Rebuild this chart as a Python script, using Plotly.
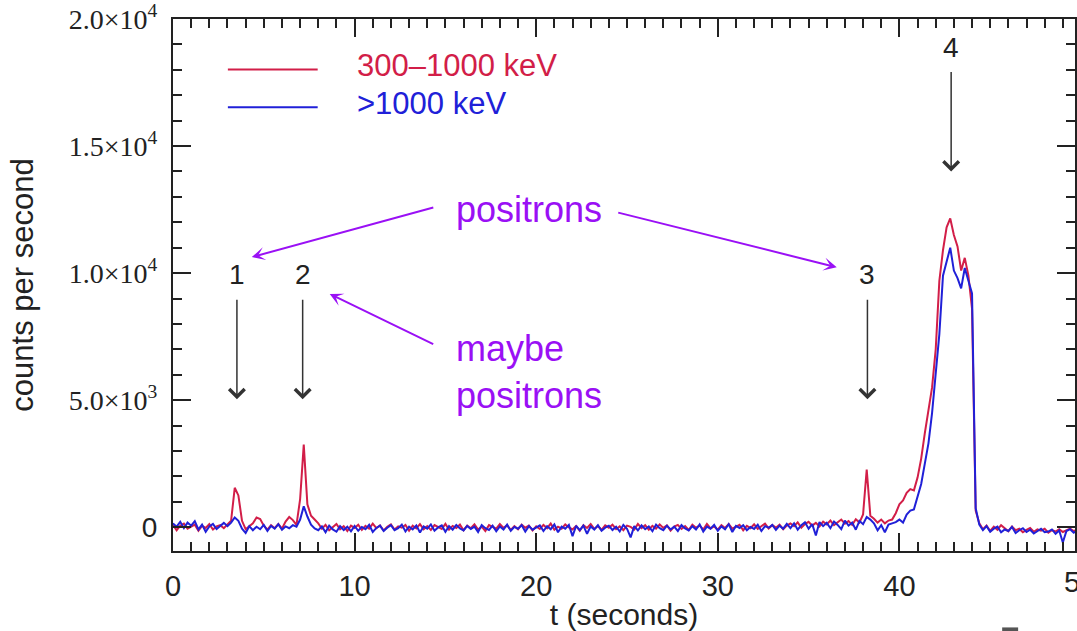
import plotly.graph_objects as go

# time grid (seconds), 0.2 s bins
t = [round(0.2 * i, 1) for i in range(250)]

# 300-1000 keV counts per second
red = [
    80, -120, 60, 140, -60, 20, 100, -140, 50, -30, 120, -90, 30, 80, -40, 110, 260,
    1550, 1250,
    250, -80, 40, 150, 380, 320, 60, -100, 80, -40, 120, -60, 220, 400, 280, 90,
    1100, 3250, 900, 450, 300,
    150, -60, 90, -120, 20, 130, -80, 40, -150, 60,
    -30, 100, -110, 50, -60, 140, -40, 70, -130, 20,
    110, -90, 30, -20, 90, -140, 60, -50, 120, -80,
    40, -110, 80, 10, -70, 130, -100, 50, -30, 100,
    -120, 60, -40, 110, -90, 20, -150, 80, 0, -60,
    120, -30, 70, -110, 40, -80, 100, -20, 60, -130,
    30, -70, 90, -40, 140, -100, 20, -60, 110, -10,
    -90, 50, -140, 80, -30, 120, -70, 40, -110, 70,
    -20, 100, -80, 30, -120, 60, 10, -90, 130, -40,
    80, -100, 50, -60, 110, -30, 70, -140, 20, 90,
    -70, 40, -110, 100, -20, 60, -90, 130, -50, 30,
    -100, 80, -30, 120, -60, 10, 90, -120, 50, -40,
    110, -70, 30, 140, -50, 80, -20, 100, -80, 60,
    150, 40, 190, -20, 120, 210, 60, 170, 30, 220,
    110, 260, 80, 190, 300, 140, 240, 90, 310, 180,
    500, 2270, 450,
    330, 180, 300, 150, 260,
    300, 550, 900, 1050, 1350, 1500, 1450, 1950, 2700, 3700, 4700, 5500, 7000,
    9700, 10900, 11800, 12150, 11500, 11050, 10100, 10600, 9900, 8600, 650, 150,
    -80, 60, -150, 20, -100, 80, -40, -160, 30, -120, -60, -200, -110, -30,
    -180, -90, -140, -60, -220, -120, -170, -80, -190, -130, -60, -150, -100,
]

# >1000 keV counts per second
blue = [
    150, 20, 210, -40, 180, 60, 240, -90, 100, -180, 30, 130, -70, 60, 170, 40, 180,
    380, 250,
    -60, -230, 40, -120, 20, -80, 90, -150, 50, -60, 120, -100, 30, -40, 80, 20,
    300, 820, 420, 100, -50,
    -120, 30, -200, 60, -90, -180, 40, -110, 20, -160,
    50, -140, 10, -80, 90, -190, -30, 60, -150, -20,
    80, -120, -40, 100, -170, 20, -90, 70, -210, 30,
    -60, 110, -140, -10, 70, -180, 40, -100, 90, -50,
    -130, 50, -70, 20, -190, 80, -40, -110, 60, -160,
    30, -90, 100, -140, 10, -60, 80, -170, 40, -100,
    -30, 70, -150, 40, -80, 110, -200, 20, -60, 90,
    -350, 50, -120, 60, -260, 30, -90, 80, -140, -20,
    60, -110, 20, -170, 90, -60, -400, 40, -130, 70,
    -80, 30, -160, 100, -40, -120, 60, -90, 20, -150,
    80, -50, -130, 40, -90, 110, -170, 20, -60, 90,
    -140, 30, -80, 120, -190, 50, -30, 80, -120, 10,
    -70, 100, -150, 40, -20, 90, -110, 60, -60, 130,
    -40, 150, -100, 80, 190, -60, 120, -330, 200, 40,
    170, -40, 220, 90, -80, 260, 60, 180, -100, 250,
    120, 400, 300,
    150, -120, 80, -200, 100,
    150, 200, 300, 180, 500, 650, 700, 1200, 1700, 2500, 3300, 4500, 6000,
    7600, 9900, 10500, 11000, 10100, 9800, 9400, 10200, 9700, 9200, 750, 100,
    -120, 40, -180, -60, 20, -200, -90, -150, 10, -230, -120, -40, -190, -100,
    -250, -140, -60, -200, -170, -90, -260, -130, -600, -150, -80, -220, -120,
]

series_names = ["300\u20131000 keV", ">1000 keV"]
series_colors = ["#d21e48", "#2020d8"]

y_tickvals = [0, 5000, 10000, 15000, 20000]
y_ticktext = ['<span style="font-family:Liberation Sans">0</span>',
              "5.0\u00d710<sup>3</sup>", "1.0\u00d710<sup>4</sup>",
              "1.5\u00d710<sup>4</sup>", "2.0\u00d710<sup>4</sup>"]
x_tickvals = [0, 10, 20, 30, 40]

# event markers: label, time, tip height (counts/s)
events = [("1", 3.52, 5040), ("2", 7.14, 5040), ("3", 38.24, 5040), ("4", 42.85, 14000)]

SANS = "Liberation Sans, Arial, Helvetica, sans-serif"
SERIF = "Liberation Serif, Times New Roman, serif"
PURPLE = "#9a10f5"

fig = go.Figure()
for vals, name, col in zip([red, blue], series_names, series_colors):
    fig.add_trace(go.Scatter(x=t, y=vals, mode="lines", name=name,
                             line=dict(color=col, width=2), showlegend=False))

W, H = 1077, 631
L, R, T, B = 173, 0, 15, 80
PW, PH = W - L - R, H - T - B

fig.update_layout(
    width=W, height=H,
    margin=dict(l=L, r=R, t=T, b=B),
    paper_bgcolor="white", plot_bgcolor="white",
    font=dict(family=SANS, size=28, color="#222"),
)

fig.update_xaxes(
    range=[0, 49.67], tickvals=x_tickvals,
    ticks="inside", ticklen=18, tickwidth=1.5, tickcolor="#222",
    minor=dict(dtick=1, ticks="inside", ticklen=9, tickwidth=1.5, tickcolor="#222"),
    showline=True, linecolor="#222", linewidth=2, mirror="allticks",
    showgrid=False, zeroline=False,
    tickfont=dict(family=SANS, size=29, color="#222"),
    ticklabelstandoff=8,
    title=dict(text="t (seconds)", font=dict(family=SANS, size=30, color="#222"), standoff=2),
)
fig.update_yaxes(
    range=[-937.5, 20001], tickvals=y_tickvals, ticktext=y_ticktext,
    ticks="inside", ticklen=18, tickwidth=1.5, tickcolor="#222",
    minor=dict(dtick=1000, ticks="inside", ticklen=9, tickwidth=1.5, tickcolor="#222"),
    showline=True, linecolor="#222", linewidth=2, mirror="allticks",
    showgrid=False, zeroline=False,
    tickfont=dict(family=SERIF, size=28, color="#222"),
    ticklabelstandoff=8, ticklabeloverflow="allow",
    title=dict(text="counts per second", font=dict(family=SANS, size=31, color="#222"), standoff=26),
)

annotations = []
# "50" tick label that falls just past the visible edge
annotations.append(dict(x=(1082 - L) / PW, y=(551 - 582) / PH, xref="paper", yref="paper",
                        text="50", showarrow=False, xanchor="center", yanchor="middle",
                        font=dict(family=SANS, size=29, color="#222")))

for lab, tx, ty in events:
    annotations.append(dict(x=tx, y=ty, xref="x", yref="y", text="", showarrow=True,
                            ax=0, ay=-101, arrowhead=4, arrowsize=2, arrowwidth=1.5,
                            arrowcolor="#333", standoff=0, startstandoff=0))
    annotations.append(dict(x=tx, y=ty + 101 / 0.0256 + 950, xref="x", yref="y", text=lab,
                            showarrow=False, xanchor="center", yanchor="middle",
                            font=dict(family=SANS, size=28, color="#222")))

annotations.append(dict(x=19.6, y=12500, xref="x", yref="y", text="positrons", showarrow=False,
                        xanchor="center", yanchor="middle",
                        font=dict(family=SANS, size=36, color=PURPLE)))
annotations.append(dict(x=15.45, y=6090, xref="x", yref="y", text="maybe<br>positrons",
                        showarrow=False, xanchor="left", yanchor="middle", align="left",
                        font=dict(family=SANS, size=36, color=PURPLE)))
for tx, ty, ax, ay in [(4.34, 10630, 183, -50), (36.55, 10230, -220, -55), (8.63, 9180, 105, 51)]:
    annotations.append(dict(x=tx, y=ty, xref="x", yref="y", text="", showarrow=True,
                            ax=ax, ay=ay, arrowhead=3, arrowsize=1.1, arrowwidth=2,
                            arrowcolor=PURPLE, standoff=0))

# legend text
annotations.append(dict(x=(355 - L) / PW, y=(551 - 62) / PH, xref="paper", yref="paper",
                        text=series_names[0], showarrow=False, xanchor="left", yanchor="middle",
                        font=dict(family=SANS, size=31, color=series_colors[0])))
annotations.append(dict(x=(355 - L) / PW, y=(551 - 100) / PH, xref="paper", yref="paper",
                        text=series_names[1], showarrow=False, xanchor="left", yanchor="middle",
                        font=dict(family=SANS, size=31, color=series_colors[1])))
fig.update_layout(annotations=annotations)

shapes = []
for yy, col in [(66, series_colors[0]), (104, series_colors[1])]:
    shapes.append(dict(type="line", xref="paper", yref="paper",
                       x0=(228 - L) / PW, x1=(318 - L) / PW,
                       y0=(551 - yy) / PH, y1=(551 - yy) / PH,
                       line=dict(color=col, width=2)))
shapes.append(dict(type="rect", xref="paper", yref="paper",
                   x0=(1004 - L) / PW, x1=(1020 - L) / PW,
                   y0=(551 - 628) / PH, y1=(551 - 634) / PH,
                   fillcolor="#555", line=dict(width=0)))
fig.update_layout(shapes=shapes)

fig.write_html("out.html")
